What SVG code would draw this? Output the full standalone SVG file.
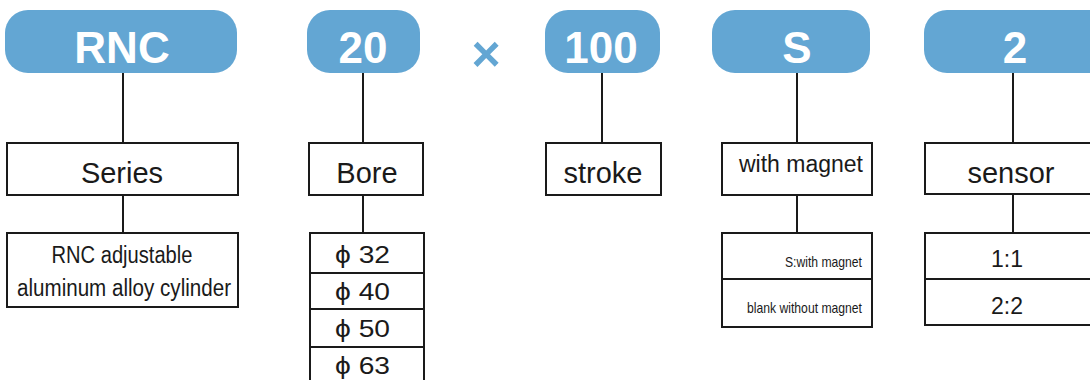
<svg xmlns="http://www.w3.org/2000/svg" width="1090" height="380" viewBox="0 0 1090 380">
<style>
.pill{fill:#63a6d3}
.pt{font-family:"Liberation Sans",Arial,sans-serif;font-weight:bold;font-size:44px;fill:#ffffff;text-anchor:middle}
.box{fill:#ffffff;stroke:#1a1a1a;stroke-width:2}
.lbl{font-family:"Liberation Sans",Arial,sans-serif;font-size:29px;fill:#1a1a1a;text-anchor:middle}
.opt{font-family:"Liberation Sans","DejaVu Sans",Arial,sans-serif;font-size:23px;fill:#1a1a1a}
.sm{font-family:"Liberation Sans",Arial,sans-serif;font-size:15px;fill:#1a1a1a;text-anchor:end}
.con{stroke:#1a1a1a;stroke-width:2;fill:none}
</style>
<rect width="1090" height="380" fill="#ffffff"/>
<g id="connectors">
<line class="con" x1="123" y1="73" x2="123" y2="143"/>
<line class="con" x1="123" y1="195" x2="123" y2="233"/>
<line class="con" x1="363" y1="73" x2="363" y2="143"/>
<line class="con" x1="363" y1="195" x2="363" y2="233"/>
<line class="con" x1="602" y1="73" x2="602" y2="143"/>
<line class="con" x1="797" y1="73" x2="797" y2="143"/>
<line class="con" x1="797" y1="195" x2="797" y2="233"/>
<line class="con" x1="1013" y1="73" x2="1013" y2="143"/>
<line class="con" x1="1013" y1="195" x2="1013" y2="233"/>
</g>
<g id="code-rnc">
<rect class="pill" x="5" y="10" width="232" height="63" rx="23"/>
<text class="pt" x="122" y="63" font-size="46">RNC</text>
</g>
<g id="code-20">
<rect class="pill" x="307" y="10" width="113" height="63" rx="23"/>
<text class="pt" x="363" y="63">20</text>
</g>
<g id="times">
<text x="486" y="71" font-family="Liberation Sans,Arial,sans-serif" font-weight="bold" font-size="50" fill="#63a6d3" text-anchor="middle">×</text>
</g>
<g id="code-100">
<rect class="pill" x="545" y="10" width="115" height="63" rx="23"/>
<text class="pt" x="601" y="63">100</text>
</g>
<g id="code-s">
<rect class="pill" x="712" y="10" width="158" height="63" rx="23"/>
<text class="pt" x="797" y="63">S</text>
</g>
<g id="code-2">
<rect class="pill" x="924" y="10" width="190" height="63" rx="23"/>
<text class="pt" x="1015" y="63">2</text>
</g>
<g id="series">
<rect class="box" x="7" y="143" width="231" height="52"/>
<text class="lbl" x="122" y="183">Series</text>
</g>
<g id="series-desc">
<rect class="box" x="7" y="233" width="231" height="74"/>
<text class="opt" x="122" y="263" text-anchor="middle" textLength="141" lengthAdjust="spacingAndGlyphs">RNC adjustable</text>
<text class="opt" x="124" y="296" text-anchor="middle" textLength="214" lengthAdjust="spacingAndGlyphs">aluminum alloy cylinder</text>
</g>
<g id="bore">
<rect class="box" x="309" y="143" width="114" height="52"/>
<text class="lbl" x="367" y="183">Bore</text>
</g>
<g id="bore-options">
<rect class="box" x="310" y="233" width="114" height="155"/>
<line class="con" x1="310" y1="273" x2="424" y2="273"/>
<line class="con" x1="310" y1="309" x2="424" y2="309"/>
<line class="con" x1="310" y1="347" x2="424" y2="347"/>
<text class="opt" x="335" y="263" font-size="25" textLength="55" lengthAdjust="spacingAndGlyphs">ϕ 32</text>
<text class="opt" x="335" y="300" font-size="25" textLength="55" lengthAdjust="spacingAndGlyphs">ϕ 40</text>
<text class="opt" x="335" y="337" font-size="25" textLength="55" lengthAdjust="spacingAndGlyphs">ϕ 50</text>
<text class="opt" x="335" y="374" font-size="25" textLength="55" lengthAdjust="spacingAndGlyphs">ϕ 63</text>
</g>
<g id="stroke">
<rect class="box" x="546" y="143" width="115" height="52"/>
<text class="lbl" x="603" y="183">stroke</text>
</g>
<g id="magnet">
<rect class="box" x="722" y="143" width="150" height="52"/>
<text class="opt" x="801" y="172" font-size="22" text-anchor="middle">with magnet</text>
</g>
<g id="magnet-options">
<rect class="box" x="722" y="233" width="150" height="94"/>
<line class="con" x1="722" y1="279" x2="872" y2="279"/>
<text class="sm" x="862" y="267" textLength="77" lengthAdjust="spacingAndGlyphs">S:with magnet</text>
<text class="sm" x="862" y="313" textLength="115" lengthAdjust="spacingAndGlyphs">blank without magnet</text>
</g>
<g id="sensor">
<rect class="box" x="925" y="143" width="180" height="51"/>
<text class="lbl" x="1011" y="183">sensor</text>
</g>
<g id="sensor-options">
<rect class="box" x="925" y="233" width="180" height="92"/>
<line class="con" x1="925" y1="279" x2="1105" y2="279"/>
<text class="opt" x="1007" y="267" text-anchor="middle">1:1</text>
<text class="opt" x="1007" y="314" text-anchor="middle">2:2</text>
</g>
</svg>
